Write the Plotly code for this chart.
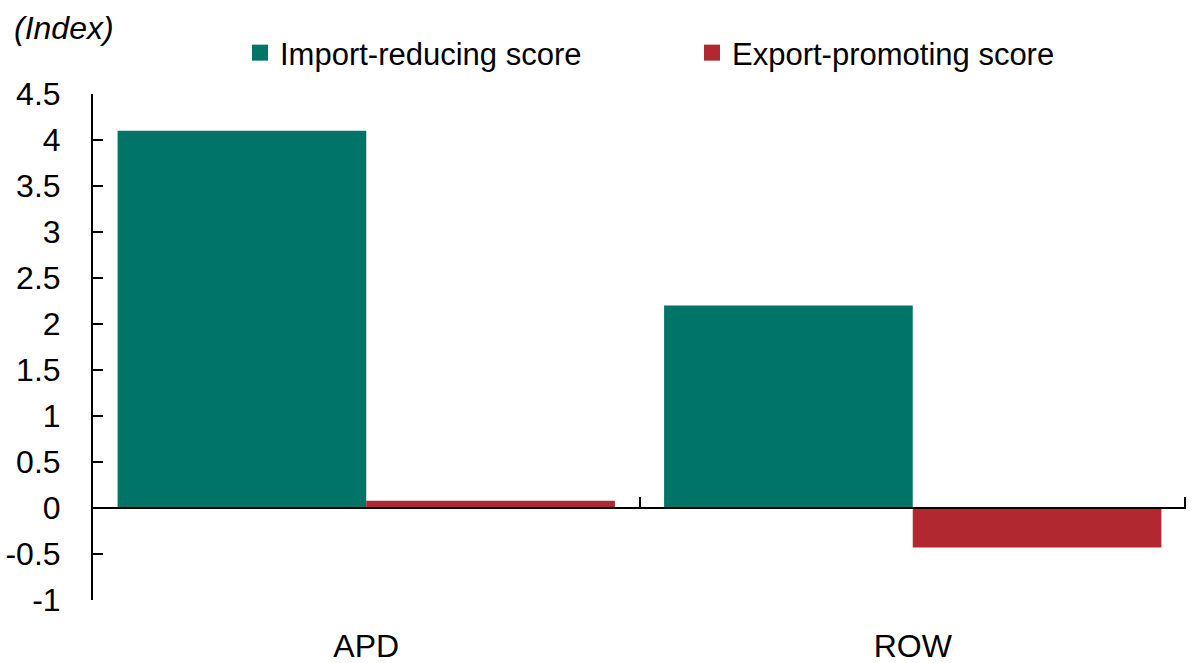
import plotly.graph_objects as go

# Regional scores by policy orientation
regions = ["APD", "ROW"]
import_reducing = [4.1, 2.2]
export_promoting = [0.08, -0.43]

y_ticks = [-1, -0.5, 0, 0.5, 1, 1.5, 2, 2.5, 3, 3.5, 4, 4.5]
y_tick_text = ["-1", "-0.5", "0", "0.5", "1", "1.5", "2", "2.5", "3", "3.5", "4", "4.5"]

GREEN = "#007466"
RED = "#B22830"
FONT = "Liberation Sans, Arial, sans-serif"

fig = go.Figure()
fig.add_trace(go.Bar(name="Import-reducing score", x=regions, y=import_reducing,
                     marker=dict(color=GREEN, line=dict(width=0)), showlegend=False))
fig.add_trace(go.Bar(name="Export-promoting score", x=regions, y=export_promoting,
                     marker=dict(color=RED, line=dict(width=0)), showlegend=False))

# square legend keys
for name, color in [("Import-reducing score", GREEN), ("Export-promoting score", RED)]:
    fig.add_trace(go.Scatter(name=name, x=[None], y=[None], mode="markers",
                             marker=dict(symbol="square", size=20, color=color),
                             showlegend=True, hoverinfo="skip"))

fig.update_layout(
    width=1201, height=663,
    margin=dict(l=93, r=15, t=94, b=63, autoexpand=False),
    plot_bgcolor="white", paper_bgcolor="white",
    font=dict(family=FONT, size=32, color="black"),
    barmode="group", bargap=0.09, bargroupgap=0,
    showlegend=True,
    legend=dict(orientation="h", x=(240 - 93) / 1093, xanchor="left",
                y=1 + 41 / 506, yanchor="middle",
                font=dict(size=31), itemsizing="trace", traceorder="normal",
                entrywidth=407, entrywidthmode="pixels", itemwidth=30),
    xaxis=dict(showline=False, ticks="", showgrid=False, zeroline=False,
               tickfont=dict(size=32), ticklabelstandoff=24, automargin=False),
    # zero baseline with category boundary ticks
    xaxis2=dict(overlaying="x", anchor="free", position=1 / 5.5, side="bottom",
                range=[-0.5, 1.5], tickvals=[-0.5, 0.5, 1.498], showticklabels=False,
                ticks="inside", ticklen=10, tickwidth=2, tickcolor="black",
                showline=True, linecolor="black", linewidth=2, showgrid=False,
                zeroline=False, layer="above traces", automargin=False),
    yaxis=dict(range=[-1, 4.5], tickvals=y_ticks, ticktext=y_tick_text,
               showline=True, linecolor="black", linewidth=2,
               ticks="inside", ticklen=10, tickwidth=2, tickcolor="black",
               showgrid=False, zeroline=False, ticklabelstandoff=24,
               tickfont=dict(size=32), automargin=False),
    annotations=[dict(text="<i>(Index)</i>", xref="paper", yref="paper",
                      x=-81 / 1093, y=1 + 66 / 506, xanchor="left", yanchor="middle",
                      showarrow=False, font=dict(size=32))],
)

# invisible trace to activate the baseline axis
fig.add_trace(go.Scatter(x=[-0.5, 1.5], y=[0, 0], xaxis="x2", mode="lines",
                         line=dict(width=0), showlegend=False, hoverinfo="skip"))

fig.write_html("out.html")
